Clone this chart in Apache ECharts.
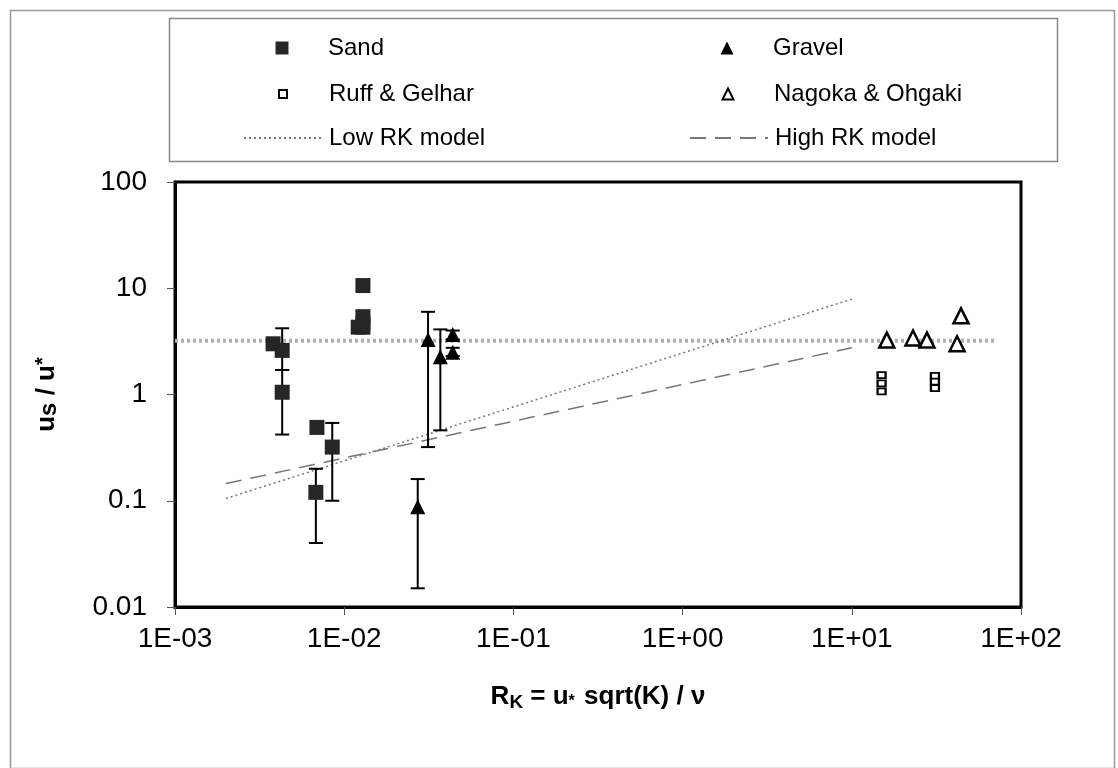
<!DOCTYPE html>
<html>
<head>
<meta charset="utf-8">
<script src="https://cdn.jsdelivr.net/npm/echarts@6/dist/echarts.min.js"></script>
<style>
  html, body { margin: 0; padding: 0; background: #fff; }
  #chart { width: 1118px; height: 768px; }
</style>
</head>
<body>
<div id="chart"></div>
<script>
// 数据 (x = R_K, y = us/u*)
var sand = [
    [0.0038, 3.0], [0.0043, 2.6], [0.0043, 1.05], [0.0069, 0.49], [0.0085, 0.32],
    [0.0068, 0.12], [0.0129, 10.6], [0.0129, 5.4], [0.0129, 4.7], [0.0121, 4.3], [0.0129, 4.3]
];
var gravel = [
    [0.0313, 3.3], [0.037, 2.27], [0.0438, 3.68], [0.0438, 2.5], [0.0272, 0.088]
];
var ruffGelhar = [
    [15.0, 1.52], [15.0, 1.27], [15.0, 1.07], [31.0, 1.5], [31.0, 1.32], [31.0, 1.15]
];
var nagoka = [
    [16.1, 3.25], [23.0, 3.4], [27.8, 3.25], [41.9, 3.0], [44.2, 5.5]
];
var lowRK = [[0.002, 0.105], [10, 7.9]];
var highRK = [[0.002, 0.145], [10, 2.75]];
var refLine = [[0.001, 3.2], [70, 3.2]];
// 误差棒: [x, low, high]
var errorBars = [
    [0.0043, 1.7, 4.2], [0.0043, 0.42, 1.7], [0.0085, 0.10, 0.54], [0.0068, 0.04, 0.2],
    [0.0313, 0.32, 6.0], [0.037, 0.46, 4.1], [0.0272, 0.015, 0.16],
    [0.0438, 3.3, 4.0], [0.0438, 2.3, 2.75]
];
var xTicks = ['1E-03', '1E-02', '1E-01', '1E+00', '1E+01', '1E+02'];
var yTicks = ['0.01', '0.1', '1', '10', '100'];

var FONT = 'Liberation Sans, Arial, sans-serif';
var myChart = echarts.init(document.getElementById('chart'));

function renderErr(params, api) {
    var x = api.value(0);
    var top = api.coord([x, api.value(2)]);
    var bot = api.coord([x, api.value(1)]);
    var w = 7;
    var st = { stroke: '#000', lineWidth: 2 };
    return {
        type: 'group',
        children: [
            { type: 'line', shape: { x1: top[0], y1: top[1], x2: bot[0], y2: bot[1] }, style: st },
            { type: 'line', shape: { x1: top[0] - w, y1: top[1], x2: top[0] + w, y2: top[1] }, style: st },
            { type: 'line', shape: { x1: bot[0] - w, y1: bot[1], x2: bot[0] + w, y2: bot[1] }, style: st }
        ]
    };
}

function expIndex(v) {
    return Math.round(Math.log(v) / Math.LN10);
}

// 图例: 每项单独放, 图标大小不同但文字对齐
var legendText = { fontSize: 24, color: '#000', fontFamily: FONT, lineHeight: 24 };
function symLegend(cx, cy, size, name, textX) {
    return {
        orient: 'vertical', left: cx - size / 2, top: cy - 12,
        itemWidth: size, itemHeight: size,
        data: [name],
        textStyle: echarts.util.extend({ padding: [0, 0, 0, textX - (cx + size / 2) - 5] }, legendText)
    };
}
function lineLegend(left, name) {
    return {
        orient: 'vertical', left: left, top: 121,
        itemWidth: 78, itemHeight: 14,
        data: [name],
        itemStyle: { opacity: 0 },
        textStyle: echarts.util.extend({ padding: [0, 0, 0, 2] }, legendText)
    };
}

myChart.setOption({
    backgroundColor: '#fff',
    animation: false,
    textStyle: { fontFamily: FONT },
    graphic: [
        { type: 'rect', left: 8, top: 8, shape: { width: 1104, height: 758 }, style: { fill: 'none', stroke: '#999', lineWidth: 1.5 }, silent: true },
        { type: 'rect', left: 167, top: 16, shape: { width: 888, height: 143 }, style: { fill: 'none', stroke: '#888', lineWidth: 1.5 }, silent: true }
    ],
    legend: [
        symLegend(277, 43, 13, 'Sand', 323),
        symLegend(277, 89, 8, 'Ruff & Gelhar', 323),
        symLegend(722, 43, 13, 'Gravel', 768),
        symLegend(722, 89, 11, 'Nagoka & Ohgaki', 768),
        lineLegend(238, 'Low RK model'),
        lineLegend(684, 'High RK model')
    ],
    grid: {
        left: 175, top: 182, right: 97, bottom: 161,
        show: true, borderColor: '#000', borderWidth: 3
    },
    xAxis: {
        type: 'log', logBase: 10, min: 0.001, max: 100,
        name: '{b|R}{s|K}{b| = u}{t|*}{b| sqrt(K) / ν}',
        nameLocation: 'middle',
        nameGap: 74,
        nameTextStyle: {
            rich: {
                b: { fontSize: 26, fontWeight: 'bold', color: '#000', fontFamily: FONT },
                s: { fontSize: 19, fontWeight: 'bold', color: '#000', fontFamily: FONT, padding: [12, 0, 0, 0] },
                t: { fontSize: 16, fontWeight: 'bold', color: '#000', fontFamily: FONT, padding: [10, 2, 0, 0] }
            }
        },
        axisLine: { show: true, lineStyle: { color: '#000', width: 3 } },
        axisTick: { show: true, length: 8, lineStyle: { color: '#555', width: 1 } },
        axisLabel: {
            fontSize: 28, color: '#000', margin: 18, fontFamily: FONT,
            formatter: function (v) { return xTicks[expIndex(v) + 3]; }
        },
        splitLine: { show: false },
        minorTick: { show: false }
    },
    yAxis: {
        type: 'log', logBase: 10, min: 0.01, max: 100,
        name: '{b|u}{s|s}{b| / u}{p|*}',
        nameLocation: 'middle',
        nameRotate: 90,
        nameGap: 114,
        nameTextStyle: {
            rich: {
                b: { fontSize: 26, fontWeight: 'bold', color: '#000', fontFamily: FONT },
                s: { fontSize: 24, fontWeight: 'bold', color: '#000', fontFamily: FONT, padding: [4, 0, 0, 0] },
                p: { fontSize: 20, fontWeight: 'bold', color: '#000', fontFamily: FONT, padding: [0, 0, 8, 0] }
            }
        },
        axisLine: { show: true, lineStyle: { color: '#000', width: 3 } },
        axisTick: { show: true, length: 8, lineStyle: { color: '#555', width: 1 } },
        axisLabel: {
            fontSize: 28, color: '#000', margin: 28, fontFamily: FONT,
            formatter: function (v) { return yTicks[expIndex(v) + 2]; }
        },
        splitLine: { show: false }
    },
    series: [{
        name: 'ref',
        type: 'line',
        data: refLine,
        symbol: 'none',
        z: 1,
        lineStyle: { color: '#b0b0b0', width: 4, type: [3, 3] }
    }, {
        name: 'Low RK model',
        type: 'line',
        data: lowRK,
        symbol: 'none',
        z: 2,
        lineStyle: { color: '#777', width: 1.5, type: [2, 3] },
        itemStyle: { color: '#777', opacity: 0 }
    }, {
        name: 'High RK model',
        type: 'line',
        data: highRK,
        symbol: 'none',
        z: 2,
        lineStyle: { color: '#777', width: 1.5, type: [16, 9] },
        itemStyle: { color: '#777', opacity: 0 }
    }, {
        name: 'errors',
        type: 'custom',
        renderItem: renderErr,
        data: errorBars,
        encode: { x: 0, y: [1, 2] },
        z: 3
    }, {
        name: 'Sand',
        type: 'scatter',
        data: sand,
        symbol: 'rect',
        symbolSize: 15,
        z: 4,
        itemStyle: { color: '#262626', opacity: 1 }
    }, {
        name: 'Gravel',
        type: 'scatter',
        data: gravel,
        symbol: 'triangle',
        symbolSize: 15,
        z: 4,
        itemStyle: { color: '#000', opacity: 1 }
    }, {
        name: 'Ruff & Gelhar',
        type: 'scatter',
        data: ruffGelhar,
        symbol: 'rect',
        symbolSize: [8, 6],
        z: 4,
        itemStyle: { color: '#fff', borderColor: '#000', borderWidth: 2, opacity: 1 }
    }, {
        name: 'Nagoka & Ohgaki',
        type: 'scatter',
        data: nagoka,
        symbol: 'triangle',
        symbolSize: 15,
        z: 4,
        itemStyle: { color: '#fff', borderColor: '#000', borderWidth: 2.5, opacity: 1 }
    }]
});
</script>
</body>
</html>
